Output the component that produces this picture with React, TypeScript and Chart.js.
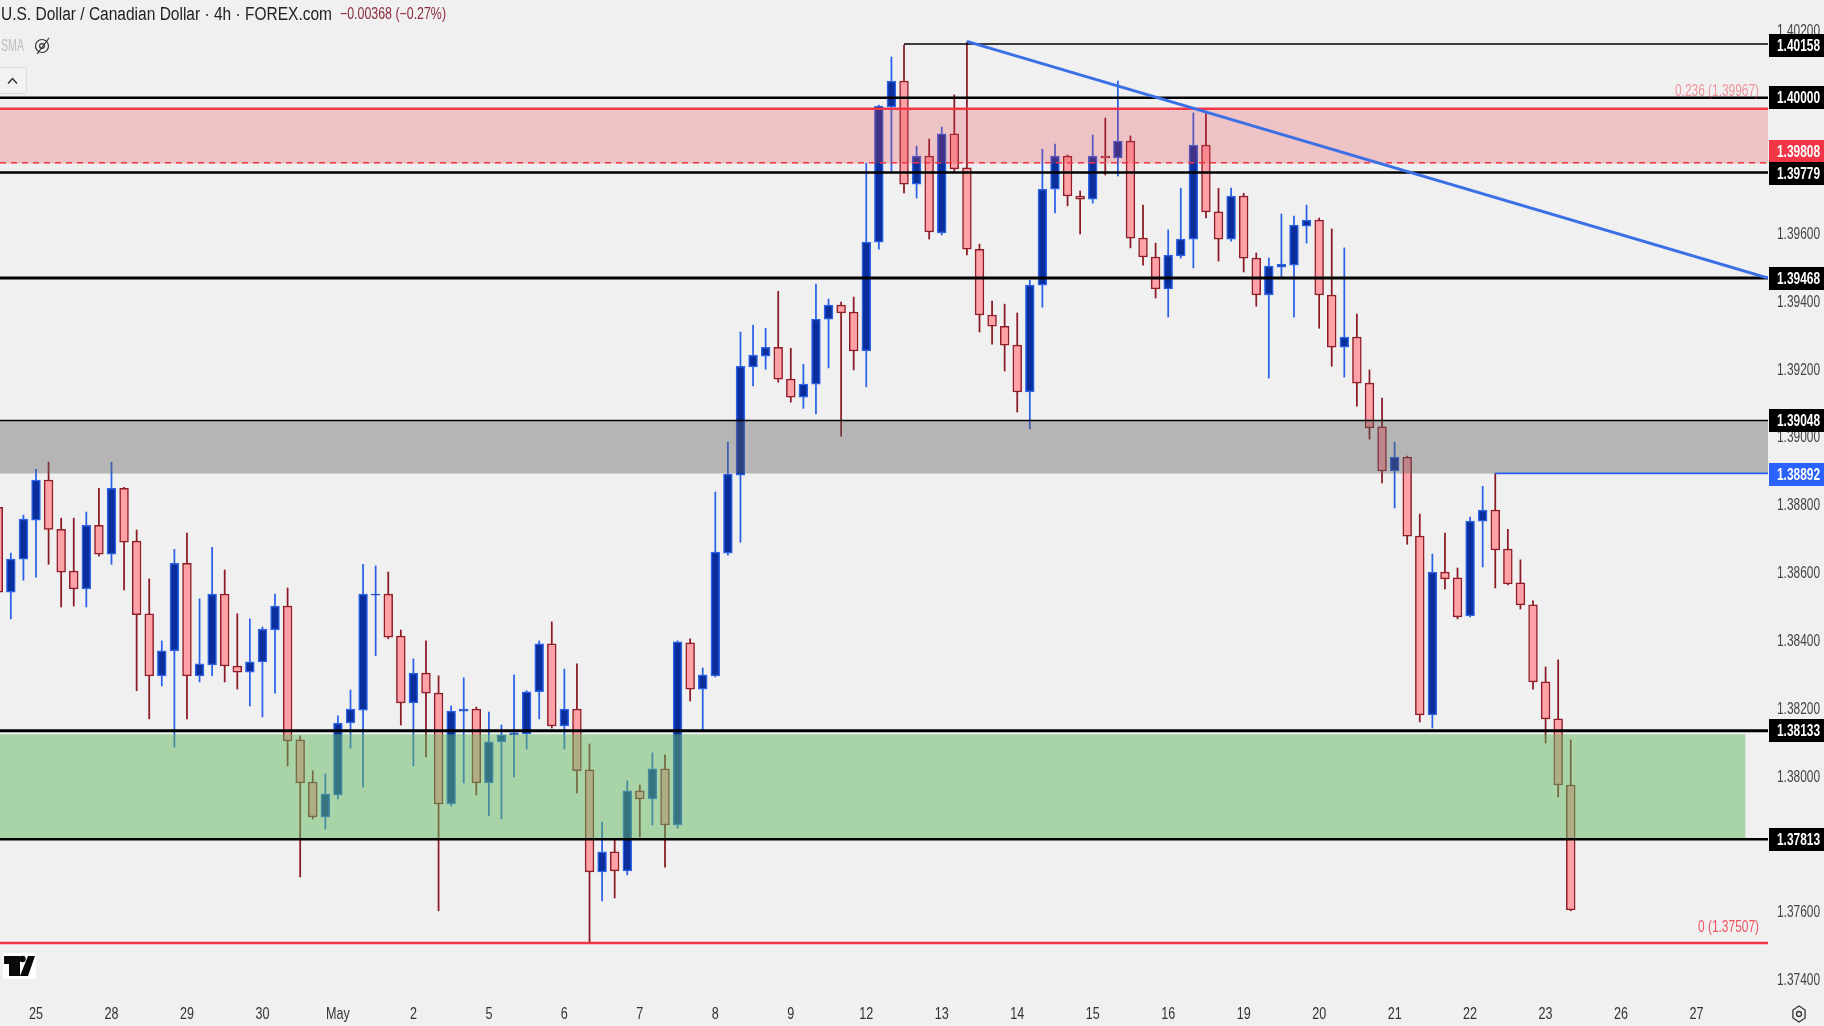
import React, { useEffect, useRef } from "react";
import { Chart, registerables } from "chart.js";

Chart.register(...registerables);

// ---- candles (first candle sits three bars before the "25" label) ----
const opens = [
  1.38792,1.38542,1.38639,1.38754,1.38872,1.38727,1.38604,1.38551,1.38739,1.38654,
  1.38848,1.38692,1.38478,1.38295,1.38369,1.38627,1.38295,1.38327,1.38536,1.38324,
  1.38306,1.38336,1.38430,1.38501,1.38106,1.37982,1.37879,1.37944,1.38156,1.38194,
  1.38533,1.38536,1.38412,1.38215,1.38303,1.38244,1.37917,1.38191,1.38197,1.37979,
  1.38100,1.38121,1.38124,1.38248,1.38389,1.38147,1.38197,1.38018,1.37717,1.37776,
  1.37720,1.37956,1.37932,1.38021,1.37855,1.38392,1.38256,1.38295,1.38657,1.38887,
  1.39206,1.39238,1.39264,1.39170,1.39117,1.39155,1.39347,1.39388,1.39368,1.39253,
  1.39574,1.39973,1.40049,1.39745,1.39828,1.39601,1.39893,1.39793,1.39553,1.39359,
  1.39326,1.39270,1.39132,1.39447,1.39730,1.39828,1.39710,1.39701,1.39828,1.39822,
  1.39872,1.39586,1.39530,1.39436,1.39533,1.39583,1.39860,1.39663,1.39583,1.39710,
  1.39527,1.39418,1.39500,1.39506,1.39621,1.39639,1.39418,1.39264,1.39294,1.39158,
  1.39029,1.38899,1.38940,1.38707,1.38180,1.38601,1.38584,1.38472,1.38751,1.38784,
  1.38669,1.38569,1.38504,1.38277,1.38168,1.37973,
];
const closes = [
  1.38542,1.38639,1.38757,1.38872,1.38727,1.38601,1.38551,1.38739,1.38654,1.38848,
  1.38689,1.38475,1.38295,1.38369,1.38627,1.38295,1.38330,1.38536,1.38324,1.38306,
  1.38336,1.38433,1.38501,1.38103,1.37979,1.37879,1.37947,1.38156,1.38197,1.38536,
  1.38536,1.38409,1.38215,1.38303,1.38244,1.37917,1.38191,1.38197,1.37979,1.38100,
  1.38121,1.38127,1.38248,1.38389,1.38147,1.38197,1.38015,1.37717,1.37776,1.37720,
  1.37956,1.37932,1.38021,1.37855,1.38395,1.38256,1.38298,1.38660,1.38890,1.39208,
  1.39241,1.39264,1.39170,1.39117,1.39155,1.39347,1.39388,1.39365,1.39253,1.39574,
  1.39975,1.40049,1.39745,1.39828,1.39604,1.39893,1.39790,1.39553,1.39359,1.39326,
  1.39270,1.39132,1.39447,1.39730,1.39828,1.39710,1.39701,1.39828,1.39822,1.39872,
  1.39586,1.39530,1.39436,1.39536,1.39583,1.39860,1.39663,1.39583,1.39710,1.39527,
  1.39418,1.39503,1.39509,1.39624,1.39639,1.39418,1.39264,1.39294,1.39158,1.39026,
  1.38899,1.38940,1.38707,1.38180,1.38601,1.38581,1.38469,1.38751,1.38784,1.38666,
  1.38566,1.38504,1.38277,1.38168,1.37973,1.37605,
];
const highs = [
  1.38813,1.38657,1.38769,1.38904,1.38925,1.38760,1.38760,1.38778,1.38848,1.38925,
  1.38851,1.38725,1.38581,1.38398,1.38668,1.38716,1.38522,1.38674,1.38607,1.38478,
  1.38463,1.38439,1.38536,1.38554,1.38118,1.38015,1.38006,1.38177,1.38253,1.38624,
  1.38619,1.38601,1.38430,1.38345,1.38398,1.38295,1.38206,1.38289,1.38203,1.38188,
  1.38150,1.38298,1.38251,1.38398,1.38454,1.38315,1.38330,1.38094,1.37864,1.37811,
  1.37985,1.37973,1.38068,1.38062,1.38398,1.38404,1.38318,1.38837,1.38984,1.39309,
  1.39329,1.39320,1.39429,1.39261,1.39214,1.39450,1.39406,1.39397,1.39412,1.39807,
  1.39978,1.40120,1.40155,1.39857,1.39878,1.39913,1.40008,1.40164,1.39568,1.39400,
  1.39391,1.39365,1.39462,1.39848,1.39863,1.39831,1.39725,1.39890,1.39940,1.40049,
  1.39887,1.39683,1.39571,1.39610,1.39733,1.39955,1.39955,1.39733,1.39733,1.39718,
  1.39542,1.39527,1.39657,1.39651,1.39683,1.39645,1.39613,1.39557,1.39362,1.39197,
  1.39114,1.38984,1.38943,1.38772,1.38654,1.38716,1.38613,1.38763,1.38854,1.38892,
  1.38727,1.38637,1.38516,1.38321,1.38342,1.38106,
];
const lows = [
  1.38533,1.38463,1.38577,1.38586,1.38624,1.38498,1.38501,1.38498,1.38648,1.38624,
  1.38548,1.38251,1.38168,1.38265,1.38085,1.38168,1.38277,1.38295,1.38277,1.38256,
  1.38206,1.38174,1.38244,1.38029,1.37702,1.37873,1.37843,1.37932,1.38082,1.37967,
  1.38354,1.38404,1.38150,1.38029,1.38056,1.37602,1.37911,1.37979,1.37944,1.37882,
  1.37873,1.37997,1.38079,1.38168,1.38141,1.38079,1.37950,1.37507,1.37631,1.37640,
  1.37708,1.37820,1.37855,1.37731,1.37846,1.38221,1.38135,1.38292,1.38651,1.38689,
  1.39150,1.39199,1.39161,1.39102,1.39084,1.39067,1.39203,1.39002,1.39197,1.39147,
  1.39553,1.39784,1.39719,1.39704,1.39583,1.39595,1.39781,1.39536,1.39309,1.39273,
  1.39194,1.39073,1.39023,1.39382,1.39660,1.39681,1.39598,1.39689,1.39772,1.39769,
  1.39557,1.39506,1.39409,1.39353,1.39527,1.39498,1.39645,1.39518,1.39577,1.39486,
  1.39385,1.39173,1.39471,1.39353,1.39571,1.39320,1.39208,1.39176,1.39090,1.38993,
  1.38864,1.38790,1.38683,1.38159,1.38141,1.38551,1.38463,1.38469,1.38616,1.38554,
  1.38563,1.38492,1.38256,1.38097,1.37938,1.37602,
];

// ---- axes ----
const dayTickBars = [3,9,15,21,27,33,39,45,51,57,63,69,75,81,87,93,99,105,111,117,123,129,135];
const dayLabels = ["25","28","29","30","May","2","5","6","7","8","9","12","13","14","15","16","19","20","21","22","23","26","27"];
const priceTicks = [1.374,1.376,1.378,1.38,1.382,1.384,1.386,1.388,1.39,1.392,1.394,1.396,1.398,1.4,1.402];
const xMin = 0.138;
const xMax = 140.68;
const yMin = 1.37339;
const yMax = 1.40288;

// ---- drawn levels, zones, tags ----
const blackLevels = [1.40000, 1.39779, 1.39468, 1.38133, 1.37813];
const blackLevelWidths = [2.5, 2.5, 3, 3, 2.5];
const thinBlackLevels = [1.39048];
const swingHigh = { from: 72, value: 1.40158 };
const swingLow = { from: 119, value: 1.38892 };
const fibLevels = [1.39967, 1.37507];
const fibDashed = 1.39808;
const trendX = [77, 140.68];
const trendY = [1.40166, 1.39468];
const zoneRed = [1.39967, 1.39806];
const zoneGrey = [1.39048, 1.38892];
const zoneGreen = [1.38123, 1.37813];
const zoneGreenEnd = 138.9;
const tagValues = [1.40158, 1.40000, 1.39808, 1.39779, 1.39468, 1.39048, 1.38892, 1.38133, 1.37813];
const tagTexts = ["1.40158","1.40000","1.39808","1.39779","1.39468","1.39048","1.38892","1.38133","1.37813"];
const tagColors = ["#000","#000","#f23645","#000","#000","#000","#2962ff","#000","#000"];
const tagShift = [1, 0, -11.7, 0.7, 0, 0, 1, 0, 0];

const FONT = "'Liberation Sans',sans-serif";
const BG = "#f0f0f0";

// axis labels are drawn from the scales' own ticks, squeezed like the reference's font
const axisLabels = {
  id: "axisLabels",
  afterDatasetsDraw(c: any) {
    const g = c.ctx;
    g.save();
    g.textBaseline = "middle";
    g.font = "17px " + FONT;
    g.fillStyle = "#444";
    g.textAlign = "left";
    c.scales.y.ticks.forEach((t: any) => {
      g.fillText(t.label, 1777, c.scales.y.getPixelForValue(t.value) + 1, 43);
    });
    g.fillStyle = "#333";
    g.textAlign = "center";
    c.scales.x.ticks.forEach((t: any) => {
      const text = String(t.label);
      g.fillText(text, c.scales.x.getPixelForValue(t.value), 1014, g.measureText(text).width * 0.74);
    });
    g.restore();
  },
};

const overlay = {
  id: "overlay",
  beforeDraw(c: any) {
    const g = c.ctx;
    g.save();
    g.fillStyle = BG;
    g.fillRect(0, 0, c.width, c.height);
    g.restore();
  },
  afterDraw(c: any) {
    const g = c.ctx;
    const y = c.scales.y;
    g.save();
    g.textBaseline = "middle";
    // price tags
    tagValues.forEach((v, i) => {
      const py = y.getPixelForValue(v) + tagShift[i];
      g.fillStyle = tagColors[i];
      g.fillRect(1769, Math.round(py - 11.5), 55, 23);
      g.fillStyle = "#fff";
      g.font = "bold 17px " + FONT;
      g.textAlign = "left";
      g.fillText(tagTexts[i], 1777, py + 1, 43);
    });
    // fib labels
    g.font = "17px " + FONT;
    g.textAlign = "right";
    g.fillStyle = "rgba(242,54,69,0.5)";
    g.fillText("0.236 (1.39967)", 1759, 91, 84);
    g.fillStyle = "rgba(242,54,69,0.85)";
    g.fillText("0 (1.37507)", 1759, 927, 61);
    // header
    g.textAlign = "left";
    g.fillStyle = "#222";
    g.font = "18px " + FONT;
    g.fillText("U.S. Dollar / Canadian Dollar · 4h · FOREX.com", 1, 15, 331);
    g.fillStyle = "#8c2a3c";
    g.font = "16px " + FONT;
    g.fillText("−0.00368 (−0.27%)", 340, 15, 106);
    g.fillStyle = "#bdbdbd";
    g.font = "16px " + FONT;
    g.fillText("SMA", 1, 47, 23);
    // hidden-eye icon
    g.strokeStyle = "#333";
    g.lineWidth = 1.2;
    g.beginPath();
    g.ellipse(42, 46, 6.5, 6.5, 0, 0, Math.PI * 2);
    g.stroke();
    g.beginPath();
    g.arc(42, 46, 2.4, 0, Math.PI * 2);
    g.stroke();
    g.beginPath();
    g.moveTo(37, 54);
    g.lineTo(49, 38);
    g.stroke();
    // collapse button
    g.fillStyle = "#f2f2f2";
    g.strokeStyle = "#dcdcdc";
    g.lineWidth = 1;
    g.beginPath();
    g.roundRect(-3, 67.5, 29.5, 26, 2);
    g.fill();
    g.stroke();
    g.strokeStyle = "#333";
    g.lineWidth = 1.5;
    g.beginPath();
    g.moveTo(8, 83.5);
    g.lineTo(12.5, 78.5);
    g.lineTo(17, 83.5);
    g.stroke();
    // TradingView logo
    g.fillStyle = "#fff";
    g.fillRect(3, 953, 33, 26);
    g.fillStyle = "#0a0a0a";
    g.fillRect(4, 956, 16, 8);
    g.fillRect(9, 956, 11, 20);
    g.beginPath();
    g.arc(22.5, 959, 3.2, 0, Math.PI * 2);
    g.fill();
    g.beginPath();
    g.moveTo(28, 956);
    g.lineTo(35, 956);
    g.lineTo(28, 976);
    g.lineTo(20, 976);
    g.closePath();
    g.fill();
    // settings hexagon
    g.strokeStyle = "#333";
    g.lineWidth = 1.3;
    g.beginPath();
    for (let i = 0; i < 6; i++) {
      const a = (i * Math.PI) / 3;
      const px = 1799 + 7 * Math.sin(a);
      const py = 1014 + 8 * Math.cos(a);
      if (i === 0) g.moveTo(px, py);
      else g.lineTo(px, py);
    }
    g.closePath();
    g.stroke();
    g.beginPath();
    g.arc(1799, 1014, 2.5, 0, Math.PI * 2);
    g.stroke();
    g.restore();
  },
};

const hline = (x0: number, x1: number, v: number, color: string, width: number, order: number, dash?: number[]) => ({
  type: "line",
  data: [{ x: x0, y: v }, { x: x1, y: v }],
  borderColor: color,
  borderWidth: width,
  borderDash: dash || [],
  pointRadius: 0,
  fill: false,
  order,
});

const zone = (x1: number, top: number, bottom: number, color: string, order: number) => ({
  type: "line",
  data: [{ x: xMin, y: top }, { x: x1, y: top }],
  borderWidth: 0,
  borderColor: "transparent",
  backgroundColor: color,
  pointRadius: 0,
  fill: { target: { value: bottom } },
  order,
});

export default function App() {
  const ref = useRef<HTMLCanvasElement>(null);
  useEffect(() => {
    const bars = opens.map((_, i) => i);
    const up = bars.map((i) => closes[i] >= opens[i]);
    const chart = new Chart(ref.current as any, {
      type: "bar",
      data: {
        datasets: [
          ...blackLevels.map((v, i) => hline(xMin, xMax, v, "#000", blackLevelWidths[i], 1)),
          ...thinBlackLevels.map((v) => hline(xMin, xMax, v, "#000", 1.5, 1)),
          hline(swingHigh.from, xMax, swingHigh.value, "#000", 1.5, 1),
          hline(swingLow.from, xMax, swingLow.value, "#2962ff", 1.6, 1),
          ...fibLevels.map((v) => hline(xMin, xMax, v, "#f23645", 2.5, 1)),
          hline(xMin, xMax, fibDashed, "#f23645", 1.3, 1, [6, 5]),
          {
            type: "line",
            data: trendX.map((x, i) => ({ x, y: trendY[i] })),
            borderColor: "#3b6fe6",
            borderWidth: 3,
            pointRadius: 0,
            fill: false,
            order: 0,
          },
          zone(xMax, zoneRed[0], zoneRed[1], "rgba(226,60,72,0.25)", 2),
          zone(xMax, zoneGrey[0], zoneGrey[1], "rgba(92,92,92,0.4)", 2),
          zone(zoneGreenEnd, zoneGreen[0], zoneGreen[1], "rgba(96,184,96,0.5)", 2),
          {
            type: "bar",
            label: "body",
            data: bars.map((i) => ({ x: i, y: [opens[i], closes[i]] })),
            backgroundColor: bars.map((i) => (up[i] ? "#0a2f9c" : "#ffa2a8")),
            borderColor: bars.map((i) => (up[i] ? "#2b62e6" : "#8f1d28")),
            borderWidth: 1.5,
            borderSkipped: false,
            barThickness: 8.8,
            grouped: false,
            order: 3,
          },
          {
            type: "bar",
            label: "wick",
            data: bars.map((i) => ({ x: i, y: [lows[i], highs[i]] })),
            backgroundColor: bars.map((i) => (up[i] ? "#2962e8" : "#8b1a24")),
            borderWidth: 0,
            barThickness: 1.1,
            grouped: false,
            order: 4,
          },
        ] as any,
      },
      options: {
        responsive: false,
        animation: false,
        devicePixelRatio: 1,
        layout: { padding: 0 },
        plugins: { legend: { display: false }, tooltip: { enabled: false }, title: { display: false } },
        scales: {
          x: {
            type: "linear",
            offset: false,
            min: xMin,
            max: xMax,
            grid: { display: false, drawTicks: false },
            border: { display: false },
            afterBuildTicks: (s: any) => {
              s.ticks = dayTickBars.map((value) => ({ value }));
            },
            afterFit: (s: any) => {
              s.height = 26;
              s.paddingLeft = 0;
              s.paddingRight = 0;
            },
            ticks: {
              display: false,
              autoSkip: false,
              maxRotation: 0,
              callback: (v: any) => dayLabels[dayTickBars.indexOf(v)] ?? "",
            },
          },
          y: {
            type: "linear",
            position: "right",
            min: yMin,
            max: yMax,
            grid: { display: false, drawTicks: false },
            border: { display: false },
            afterBuildTicks: (s: any) => {
              s.ticks = priceTicks.map((value) => ({ value }));
            },
            afterFit: (s: any) => {
              s.width = 56;
              s.paddingTop = 0;
              s.paddingBottom = 0;
            },
            ticks: {
              display: false,
              autoSkip: false,
              callback: (v: any) => Number(v).toFixed(5),
            },
          },
        },
      },
      plugins: [axisLabels, overlay],
    } as any);
    return () => chart.destroy();
  }, []);
  return (
    <div style={{ position: "fixed", left: 0, top: 0, width: 1824, height: 1026, background: BG }}>
      <canvas ref={ref} width={1824} height={1026} style={{ display: "block" }} />
    </div>
  );
}
